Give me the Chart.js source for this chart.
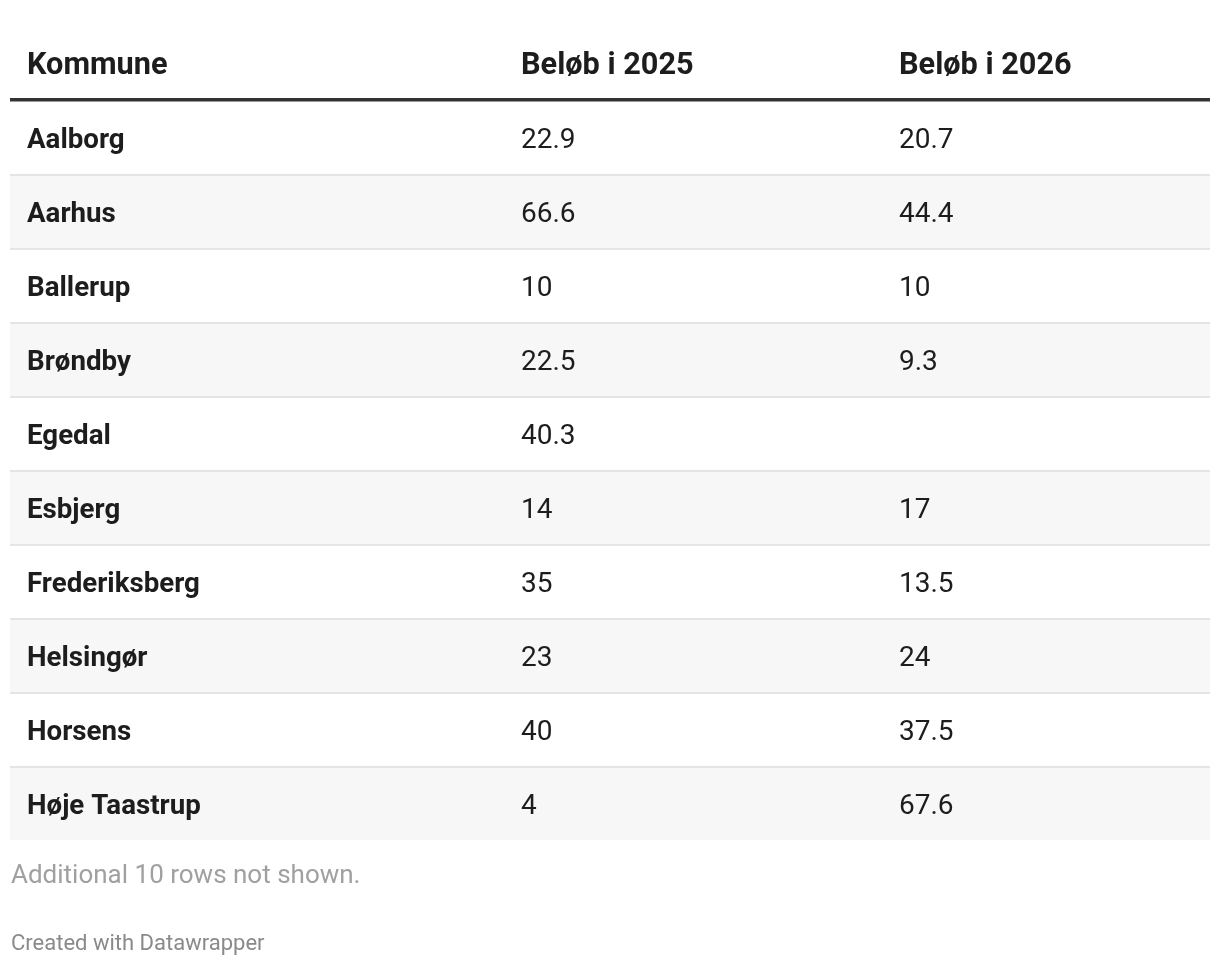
<!DOCTYPE html>
<html>
<head>
<meta charset="utf-8">
<script src="https://cdn.jsdelivr.net/npm/chart.js@4/dist/chart.umd.min.js"></script>
<style>
  html, body { margin: 0; padding: 0; background: #fff; }
  #wrap { position: relative; width: 1220px; height: 966px; }
</style>
</head>
<body>
<div id="wrap"><canvas id="table"></canvas></div>
<script>
// Table contents
const columns = ['Kommune', 'Beløb i 2025', 'Beløb i 2026'];
const kommuner = ['Aalborg', 'Aarhus', 'Ballerup', 'Brøndby', 'Egedal', 'Esbjerg',
    'Frederiksberg', 'Helsingør', 'Horsens', 'Høje Taastrup'];
const belob2025 = [22.9, 66.6, 10, 22.5, 40.3, 14, 35, 23, 40, 4];
const belob2026 = [20.7, 44.4, 10, 9.3, null, 17, 13.5, 24, 37.5, 67.6];
const footNote = 'Additional 10 rows not shown.';
const credit = 'Created with Datawrapper';

// column text starts, in table units (0..1200 across)
const colStart = [17, 511, 889];
const cellValues = [kommuner, belob2025, belob2026];

const fontFamily = 'Roboto, "Liberation Sans", sans-serif';

// stripes: every second row gets a light background
const stripes = kommuner.map((k, i) => (i % 2 === 1 ? [0, 1200] : null));

const tablePlugin = {
    id: 'tableText',
    afterDatasetsDraw(chart) {
        const { ctx, chartArea, scales } = chart;
        const x = scales.x;
        const y = scales.y;
        ctx.save();
        // row separators
        ctx.fillStyle = '#e5e5e5';
        for (let i = 1; i < kommuner.length; i++) {
            const top = y.getPixelForValue(i) - 37;
            ctx.fillRect(chartArea.left, top, chartArea.width, 2);
        }

        // header
        ctx.fillStyle = '#1d1d1d';
        ctx.textBaseline = 'alphabetic';
        ctx.textAlign = 'left';
        ctx.font = 'bold 30.7px ' + fontFamily;
        columns.forEach((c, j) => {
            ctx.fillText(c, x.getPixelForValue(colStart[j]), chartArea.top - 26);
        });
        ctx.fillStyle = '#333333';
        ctx.fillRect(chartArea.left, chartArea.top - 2, chartArea.width, 3.5);

        // body cells
        for (let i = 0; i < kommuner.length; i++) {
            const base = y.getPixelForValue(i) + 11;
            cellValues.forEach((col, j) => {
                const v = col[i];
                if (v === null || v === undefined) return;
                ctx.font = j === 0 ? 'bold 27.7px ' + fontFamily : '28px ' + fontFamily;
                ctx.fillStyle = '#1d1d1d';
                ctx.fillText(String(v), x.getPixelForValue(colStart[j]), base);
            });
        }

        // footer
        ctx.font = '26px ' + fontFamily;
        ctx.fillStyle = '#a0a0a0';
        ctx.fillText(footNote, chartArea.left + 1, chartArea.bottom + 43);
        ctx.font = '22px ' + fontFamily;
        ctx.fillStyle = '#8a8a8a';
        ctx.fillText(credit, chartArea.left + 1, chartArea.bottom + 110);
        ctx.restore();
    }
};

new Chart(document.getElementById('table'), {
    type: 'bar',
    data: {
        labels: kommuner,
        datasets: [{
            label: 'stripes',
            data: stripes,
            backgroundColor: '#f7f7f7',
            borderWidth: 0,
            barPercentage: 1,
            categoryPercentage: 1
        }]
    },
    options: {
        indexAxis: 'y',
        responsive: true,
        maintainAspectRatio: false,
        animation: false,
        layout: { padding: { top: 100, bottom: 126, left: 10, right: 10 } },
        scales: {
            x: { type: 'linear', min: 0, max: 1200, display: false },
            y: { type: 'category', display: false, offset: true }
        },
        plugins: {
            legend: { display: false },
            tooltip: { enabled: false }
        }
    },
    plugins: [tablePlugin]
});
</script>
</body>
</html>
